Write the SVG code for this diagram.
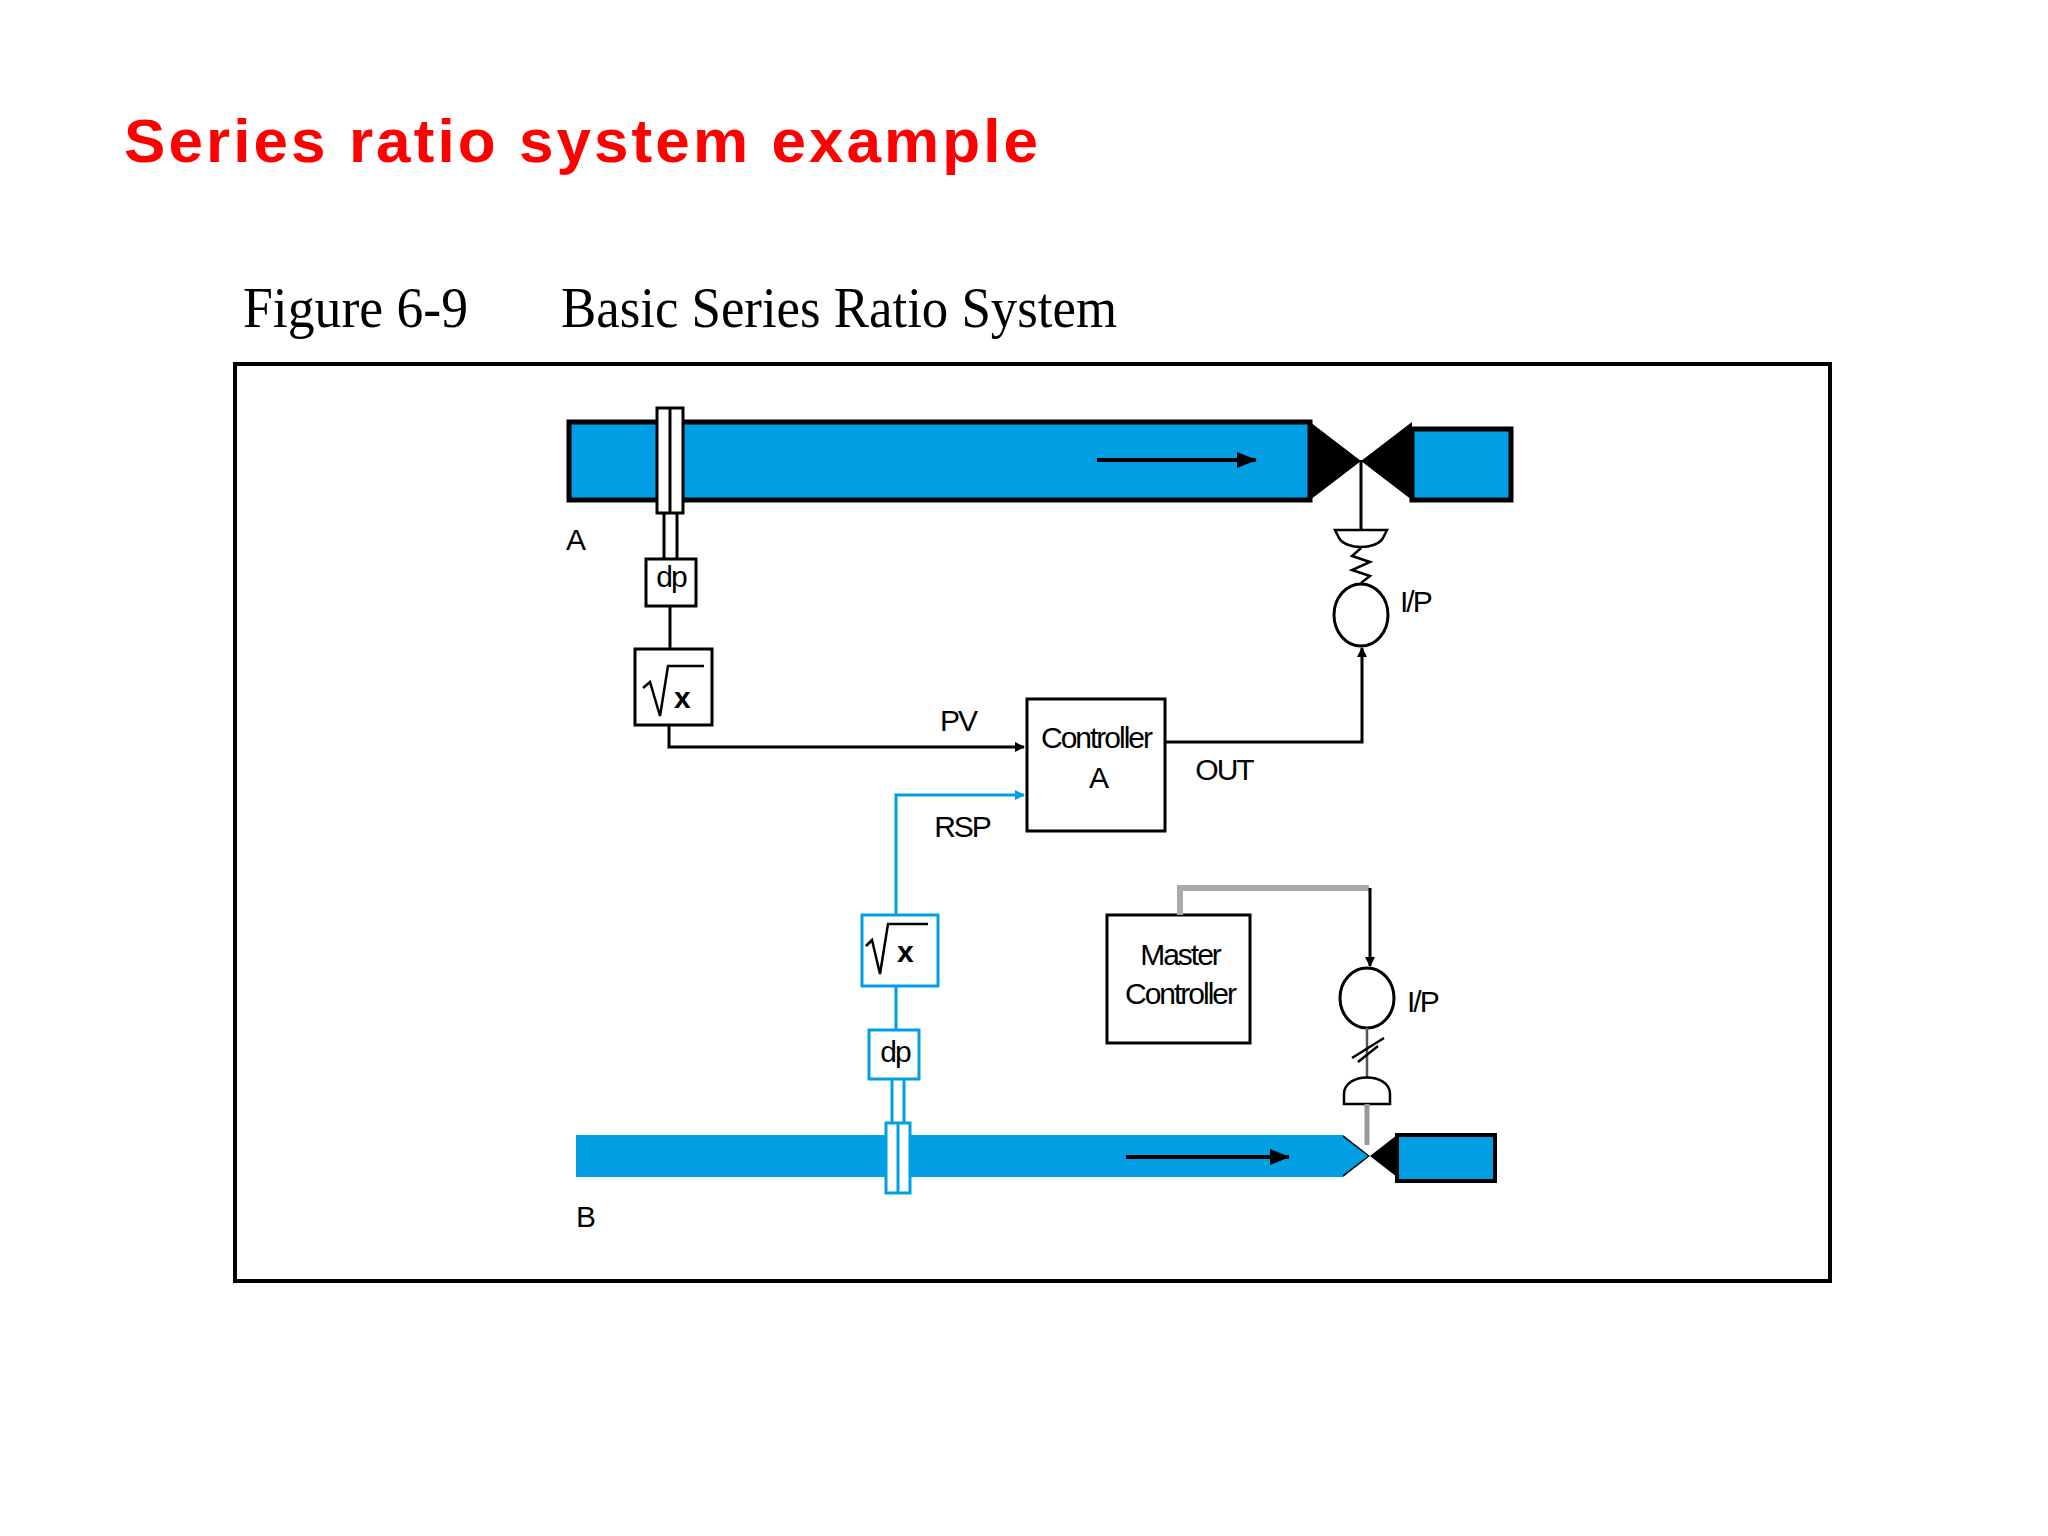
<svg xmlns="http://www.w3.org/2000/svg" width="2048" height="1536" viewBox="0 0 2048 1536">
<defs>
<style>
.lbl{font-family:"Liberation Sans",Arial,sans-serif;font-size:30px;fill:#000;letter-spacing:-2px}
.pipe{fill:#009fe3}
.box{fill:#fff;stroke:#000;stroke-width:3}
.bbox{fill:#fff;stroke:#009fe3;stroke-width:3}
.ln{fill:none;stroke:#000;stroke-width:3}
.bl{fill:none;stroke:#009fe3;stroke-width:3}
</style>
<marker id="ah" markerWidth="10" markerHeight="10" refX="9" refY="5" orient="auto" markerUnits="userSpaceOnUse" viewBox="0 0 10 10"><path d="M0,0 L10,5 L0,10 z" fill="#000"/></marker>
<marker id="ahb" markerWidth="10" markerHeight="10" refX="9" refY="5" orient="auto" markerUnits="userSpaceOnUse" viewBox="0 0 10 10"><path d="M0,0 L10,5 L0,10 z" fill="#009fe3"/></marker>
<marker id="ahL" markerWidth="20" markerHeight="20" refX="19" refY="10" orient="auto" markerUnits="userSpaceOnUse" viewBox="0 0 20 20"><path d="M0,2 L20,10 L0,18 z" fill="#000"/></marker>
</defs>
<rect width="2048" height="1536" fill="#fff"/>
<text x="124" y="162" font-family="Liberation Sans,Arial,sans-serif" font-weight="bold" font-size="62" fill="#f00" textLength="914">Series ratio system example</text>
<text x="243" y="327" font-family="Liberation Serif,'Times New Roman',serif" font-size="56" fill="#000" textLength="225" lengthAdjust="spacingAndGlyphs">Figure 6-9</text>
<text x="561" y="327" font-family="Liberation Serif,'Times New Roman',serif" font-size="56" fill="#000" textLength="556" lengthAdjust="spacingAndGlyphs">Basic Series Ratio System</text>
<rect x="235" y="364" width="1595" height="917" fill="none" stroke="#000" stroke-width="4"/>

<g id="pipeA">
<rect x="569" y="422" width="741" height="78" class="pipe" stroke="#000" stroke-width="5"/>
<rect x="1412" y="429" width="99" height="71" class="pipe" stroke="#000" stroke-width="5"/>
<path d="M1310,422 L1412,500 L1412,422 L1310,500 z" fill="#000"/>
<line x1="1097" y1="460" x2="1256" y2="460" stroke="#000" stroke-width="4" marker-end="url(#ahL)"/>
<rect x="657" y="408" width="26" height="105" fill="#fff" stroke="#000" stroke-width="3"/>
<line x1="670" y1="408" x2="670" y2="513" stroke="#000" stroke-width="3"/>
<text x="566" y="550" class="lbl">A</text>
</g>
<g id="pipeB">
<rect x="576" y="1135" width="767" height="42" class="pipe"/>
<rect x="1397" y="1135" width="98" height="46" class="pipe" stroke="#000" stroke-width="4"/>
<path d="M1343,1135 L1397,1177 L1397,1135 L1343,1177 z" fill="#000"/>
<path d="M1343,1137 L1368,1156 L1343,1175 z" fill="#009fe3"/>
<line x1="1126" y1="1157" x2="1289" y2="1157" stroke="#000" stroke-width="4" marker-end="url(#ahL)"/>
<rect x="886" y="1123" width="24" height="70" fill="#fff" stroke="#009fe3" stroke-width="3"/>
<line x1="898" y1="1123" x2="898" y2="1193" stroke="#009fe3" stroke-width="3"/>
<text x="576" y="1227" class="lbl">B</text>
</g>

<g id="dpA">
<line x1="664" y1="513" x2="664" y2="559" class="ln"/>
<line x1="677" y1="513" x2="677" y2="559" class="ln"/>
<rect x="646" y="559" width="50" height="47" class="box"/>
<text x="671" y="587" class="lbl" text-anchor="middle">dp</text>
</g>
<g id="sqrtA">
<rect x="635" y="649" width="77" height="76" class="box"/>
<path d="M643,688 L650,682 L660,716 L668,666 L704,666" fill="none" stroke="#000" stroke-width="2.5"/>
<text x="674" y="708" class="lbl" font-weight="bold">x</text>
</g>
<g id="ctrlA">
<rect x="1027" y="699" width="138" height="132" class="box"/>
<text x="1096" y="748" class="lbl" text-anchor="middle">Controller</text>
<text x="1098" y="788" class="lbl" text-anchor="middle">A</text>
</g>
<g id="ipA">
<line x1="1361" y1="460" x2="1361" y2="530" stroke="#000" stroke-width="3"/>
<path d="M1335,530 L1387,530 L1383,538 C1376,550 1346,550 1339,538 z" fill="#fff" stroke="#000" stroke-width="2.5"/>
<path d="M1361,548 L1352,556 L1370,562 L1352,570 L1370,576 L1361,583" fill="none" stroke="#000" stroke-width="2.5"/>
<ellipse cx="1361" cy="615" rx="27" ry="31" fill="#fff" stroke="#000" stroke-width="3"/>
<text x="1400" y="612" class="lbl">I/P</text>
</g>
<g id="dpB">
<line x1="892" y1="1079" x2="892" y2="1123" class="bl"/>
<line x1="904" y1="1079" x2="904" y2="1123" class="bl"/>
<rect x="869" y="1030" width="50" height="49" class="bbox"/>
<text x="895" y="1062" class="lbl" text-anchor="middle">dp</text>
</g>
<g id="sqrtB">
<rect x="862" y="915" width="76" height="71" class="bbox"/>
<path d="M866,946 L872,940 L880,974 L888,924 L928,924" fill="none" stroke="#000" stroke-width="2.5"/>
<text x="897" y="962" class="lbl" font-weight="bold">x</text>
</g>
<g id="master">
<rect x="1107" y="915" width="143" height="128" class="box"/>
<text x="1180" y="965" class="lbl" text-anchor="middle">Master</text>
<text x="1180" y="1004" class="lbl" text-anchor="middle">Controller</text>
</g>
<g id="ipB">
<ellipse cx="1367" cy="998" rx="27" ry="30" fill="#fff" stroke="#000" stroke-width="3"/>
<text x="1407" y="1012" class="lbl">I/P</text>
<line x1="1367" y1="1028" x2="1367" y2="1078" stroke="#555" stroke-width="2.5"/>
<path d="M1352,1058 L1384,1038 M1358,1062 L1378,1046" stroke="#000" stroke-width="2.5"/>
<path d="M1344,1104 L1344,1094 C1344,1072 1390,1072 1390,1094 L1390,1104 z" fill="#fff" stroke="#000" stroke-width="2.5"/>
<line x1="1367" y1="1104" x2="1367" y2="1145" stroke="#999" stroke-width="5"/>
</g>

<g id="connectors">
<line x1="670" y1="606" x2="670" y2="649" class="ln"/>
<polyline points="669,725 669,747 1024,747" class="ln" marker-end="url(#ah)"/>
<text x="958" y="731" class="lbl" text-anchor="middle">PV</text>
<polyline points="1165,742 1362,742 1362,648" class="ln" marker-end="url(#ah)"/>
<text x="1224" y="780" class="lbl" text-anchor="middle">OUT</text>
<line x1="896" y1="986" x2="896" y2="1030" class="bl"/>
<polyline points="896,915 896,795 1024,795" class="bl" marker-end="url(#ahb)"/>
<text x="962" y="837" class="lbl" text-anchor="middle">RSP</text>
<polyline points="1180,915 1180,888 1369,888" fill="none" stroke="#aaa" stroke-width="6"/>
<line x1="1370" y1="888" x2="1370" y2="966" class="ln" marker-end="url(#ah)"/>
</g>
</svg>
